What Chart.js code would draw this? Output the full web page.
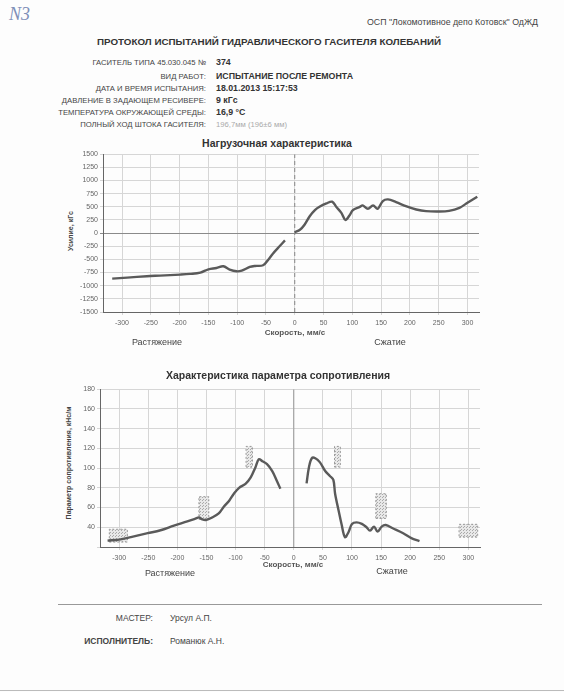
<!DOCTYPE html>
<html>
<head>
<meta charset="utf-8">
<script src="https://cdn.jsdelivr.net/npm/chart.js@4.4.0/dist/chart.umd.min.js"></script>
<style>
  body { margin: 0; background: #fff; }
  #page { position: relative; width: 564px; height: 692px; overflow: hidden;
          font-family: "Liberation Sans", Arial, sans-serif; color: #333; background: #fdfdfd; }
  .t { position: absolute; white-space: nowrap; line-height: 1; }
  .lbl { font-size: 7.7px; color: #444; }
  .val { font-size: 8.8px; font-weight: bold; color: #333; }
  .ctitle { font-size: 10.5px; font-weight: bold; color: #333; transform: translateX(-50%); }
  .axt { font-size: 8px; font-weight: bold; color: #555; transform: translateX(-50%); }
  .side { font-size: 9px; color: #444; transform: translateX(-50%); }
  .ytitle { font-size: 7px; font-weight: bold; color: #444; transform: translate(-50%, -50%) rotate(-90deg); }
  .foot { font-size: 8.5px; color: #444; }
  .hr { position: absolute; height: 1px; background: #999; }
  canvas { position: absolute; }
</style>
</head>
<body>
<div id="page">
  <div class="t" style="left:9px;top:4px;font:italic 18px 'Liberation Serif',serif;color:#7d8fb8;">N3</div>
  <div class="t" style="right:26px;top:18px;font-size:8.8px;color:#444;">ОСП "Локомотивное депо Котовск" ОдЖД</div>
  <div class="t" style="left:97px;top:37px;font-size:9.8px;font-weight:bold;color:#333;">ПРОТОКОЛ ИСПЫТАНИЙ ГИДРАВЛИЧЕСКОГО ГАСИТЕЛЯ КОЛЕБАНИЙ</div>

  <div class="t lbl" style="right:358px;top:59px;">ГАСИТЕЛЬ ТИПА 45.030.045 №</div>
  <div class="t val" style="left:216px;top:58px;">374</div>
  <div class="t lbl" style="right:358px;top:73px;">ВИД РАБОТ:</div>
  <div class="t val" style="left:216px;top:72px;">ИСПЫТАНИЕ ПОСЛЕ РЕМОНТА</div>
  <div class="t lbl" style="right:358px;top:85px;">ДАТА И ВРЕМЯ ИСПЫТАНИЯ:</div>
  <div class="t val" style="left:216px;top:84px;">18.01.2013 15:17:53</div>
  <div class="t lbl" style="right:358px;top:97px;">ДАВЛЕНИЕ В ЗАДАЮЩЕМ РЕСИВЕРЕ:</div>
  <div class="t val" style="left:216px;top:96px;">9 кГс</div>
  <div class="t lbl" style="right:358px;top:109px;">ТЕМПЕРАТУРА ОКРУЖАЮЩЕЙ СРЕДЫ:</div>
  <div class="t val" style="left:216px;top:108px;">16,9 °С</div>
  <div class="t lbl" style="right:358px;top:121px;">ПОЛНЫЙ ХОД ШТОКА ГАСИТЕЛЯ:</div>
  <div class="t val" style="left:216px;top:121px;color:#aaa;font-weight:normal;font-size:7.7px;">196,7мм (196±6 мм)</div>

  <div class="t ctitle" style="left:277px;top:138px;">Нагрузочная характеристика</div>
  <div class="t ytitle" style="left:70px;top:231px;">Усилие, кГс</div>
  <canvas id="load" width="426" height="182" style="left:58px;top:148px;"></canvas>
  <div class="t axt" style="left:295px;top:329px;">Скорость, мм/с</div>
  <div class="t side" style="left:157px;top:338px;">Растяжение</div>
  <div class="t side" style="left:390px;top:338px;">Сжатие</div>

  <div class="t ctitle" style="left:278px;top:370px;">Характеристика параметра сопротивления</div>
  <div class="t ytitle" style="left:68px;top:463px;">Параметр сопротивления, кНс/м</div>
  <canvas id="resist" width="430" height="182" style="left:55px;top:383px;"></canvas>
  <div class="t axt" style="left:293px;top:561px;">Скорость, мм/с</div>
  <div class="t side" style="left:170px;top:569px;">Растяжение</div>
  <div class="t side" style="left:392px;top:567px;">Сжатие</div>

  <div class="hr" style="left:58px;top:604px;width:484px;"></div>
  <div class="t foot" style="right:411px;top:614px;">МАСТЕР:</div>
  <div class="t foot" style="left:170px;top:614px;">Урсул А.П.</div>
  <div class="t foot" style="right:411px;top:637px;font-weight:bold;">ИСПОЛНИТЕЛЬ:</div>
  <div class="t foot" style="left:170px;top:637px;">Романюк А.Н.</div>
  <div class="hr" style="left:0;top:690px;width:564px;background:#bbb;"></div>
</div>

<script>
// Нагрузочная характеристика (усилие, кГс)
const loadNegX = [-317, -291, -257, -234, -199, -182, -164, -150, -136, -124, -113, -101, -92, -78, -69, -55, -46, -38, -26, -17];
const loadNegY = [-865, -846, -820, -808, -789, -776, -751, -688, -663, -631, -694, -726, -713, -644, -625, -612, -505, -391, -246, -139];
const loadPosX = [0, 9, 17, 26, 35, 43, 55, 65, 72, 81, 88, 95, 101, 113, 118, 127, 136, 144, 153, 162, 176, 193, 211, 228, 251, 268, 286, 300, 317];
const loadPosY = [19, 64, 160, 320, 436, 500, 564, 596, 500, 385, 250, 333, 436, 500, 526, 462, 526, 462, 609, 641, 590, 513, 449, 417, 410, 423, 481, 577, 692];

// Параметр сопротивления
const resNegX = [-320, -300, -280, -251, -229, -206, -183, -169, -163, -157, -151, -140, -129, -120, -111, -103, -94, -83, -74, -66, -60, -54, -46, -37, -29, -23];
const resNegY = [26.5, 27.5, 30, 34, 37, 41.7, 46, 48.8, 50, 48, 47.4, 50, 54, 61, 67, 74, 80, 84, 90.6, 100.7, 109, 107, 104, 97, 87, 79];
const resPosX = [22, 26, 31, 37, 45, 54, 62, 68, 71, 77, 82, 88, 94, 100, 108, 117, 125, 131, 138, 144, 151, 158, 170, 188, 202, 216];
const resPosY = [84.5, 100.7, 110, 110, 105.8, 97, 92, 88, 74, 57, 43.4, 30, 35, 43.4, 45, 43.4, 40, 36.6, 40.7, 35.6, 40.7, 42.3, 39, 34, 29, 26];

// допуски (пунктирные прямоугольники)
const tolX1 = [-317, -163, -82, 70, 141, 284];
const tolX2 = [-286, -146, -71, 80, 159, 316];
const tolY1 = [25, 48, 101, 101, 49, 30];
const tolY2 = [38, 71, 122, 122, 74, 43];

const xTicks = [-300, -250, -200, -150, -100, -50, 0, 50, 100, 150, 200, 250, 300];
const loadTicks = [-1500, -1250, -1000, -750, -500, -250, 0, 250, 500, 750, 1000, 1250, 1500];
const resTicks = [20, 40, 60, 80, 100, 120, 140, 160, 180];

function zip(xs, ys) { return xs.map((x, i) => ({x: x, y: ys[i]})); }

const tickFont = {family: "'Liberation Sans', Arial, sans-serif", size: 7};

function curve(pts) {
    return {data: pts, borderColor: '#5a5a5a', borderWidth: 2.4, pointRadius: 0, tension: 0.35, fill: false};
}

function xScale() {
    return {
        type: 'linear', min: -333, max: 320,
        afterBuildTicks: s => { s.ticks = xTicks.map(v => ({value: v})); },
        afterFit: s => { s.height = 18; },
        ticks: {font: tickFont, color: '#666', padding: 4, maxRotation: 0, callback: v => String(v)},
        grid: {color: '#d6d6d6', tickLength: 3},
        border: {color: '#666'}
    };
}

// dotted fill for tolerance boxes
const pc = document.createElement('canvas');
pc.width = 3; pc.height = 3;
const pctx = pc.getContext('2d');
pctx.fillStyle = 'rgba(232,232,232,1)';
pctx.fillRect(0, 0, 3, 3);
pctx.fillStyle = '#aaa';
pctx.fillRect(0, 0, 1, 1);
pctx.fillRect(1, 2, 1, 1);
const dots = document.getElementById('resist').getContext('2d').createPattern(pc, 'repeat');

new Chart(document.getElementById('load'), {
    type: 'line',
    data: {
        datasets: [
            curve(zip(loadNegX, loadNegY)),
            curve(zip(loadPosX, loadPosY)),
            {data: [{x: 0, y: -1500}, {x: 0, y: 1500}], borderColor: '#888', borderWidth: 1,
             borderDash: [4, 3], pointRadius: 0, fill: false}
        ]
    },
    options: {
        responsive: false, animation: false,
        layout: {padding: {top: 5, right: 5, left: 0, bottom: 0}},
        plugins: {legend: {display: false}, tooltip: {enabled: false}},
        scales: {
            x: xScale(),
            y: {
                min: -1500, max: 1500,
                afterBuildTicks: s => { s.ticks = loadTicks.map(v => ({value: v})); },
                afterFit: s => { s.width = 45; },
                ticks: {font: tickFont, color: '#666', padding: 2, callback: v => String(v)},
                grid: {color: c => c.tick && c.tick.value === 0 ? '#8a8a8a' : '#d6d6d6', tickLength: 3},
                border: {color: '#666'}
            }
        }
    }
});

const boxSets = tolX1.map((x1, i) => ({
    data: [{x: x1, y: tolY1[i]}, {x: tolX2[i], y: tolY1[i]}, {x: tolX2[i], y: tolY2[i]},
           {x: x1, y: tolY2[i]}, {x: x1, y: tolY1[i]}],
    borderColor: '#999', borderWidth: 1, borderDash: [2, 2], backgroundColor: dots,
    fill: 'shape', pointRadius: 0, tension: 0
}));

new Chart(document.getElementById('resist'), {
    type: 'line',
    data: {
        datasets: [
            curve(zip(resNegX, resNegY)),
            curve(zip(resPosX, resPosY)),
            {data: [{x: 0, y: 20}, {x: 0, y: 180}], borderColor: '#999', borderWidth: 1,
             pointRadius: 0, fill: false}
        ].concat(boxSets)
    },
    options: {
        responsive: false, animation: false,
        layout: {padding: {top: 5, right: 5, left: 0, bottom: 0}},
        plugins: {legend: {display: false}, tooltip: {enabled: false}},
        scales: {
            x: xScale(),
            y: {
                min: 20, max: 180,
                afterBuildTicks: s => { s.ticks = resTicks.map(v => ({value: v})); },
                afterFit: s => { s.width = 45; },
                ticks: {font: tickFont, color: '#666', padding: 2,
                        callback: v => v === 20 ? '' : String(v)},
                grid: {color: '#d6d6d6', tickLength: 3},
                border: {color: '#666'}
            }
        }
    }
});
</script>
</body>
</html>
